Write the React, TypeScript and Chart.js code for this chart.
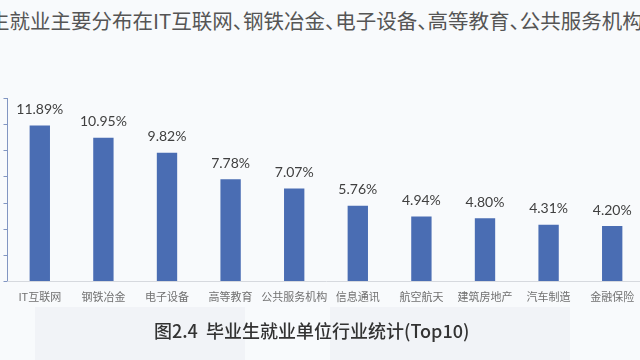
import React, { useEffect, useRef } from "react";
import { Chart, registerables } from "chart.js";

Chart.register(...registerables);

const categories = ["IT互联网", "钢铁冶金", "电子设备", "高等教育", "公共服务机构", "信息通讯", "航空航天", "建筑房地产", "汽车制造", "金融保险"];
const shares = [11.89, 10.95, 9.82, 7.78, 7.07, 5.76, 4.94, 4.80, 4.31, 4.20];
const yTicks = [0, 2, 4, 6, 8, 10, 12, 14];
const headline = "毕业生就业主要分布在IT互联网、钢铁冶金、电子设备、高等教育、公共服务机构等行业";
const caption = "图2.4  毕业生就业单位行业统计(Top10)";

const cjk = '"Noto Sans CJK SC", "Noto Sans", sans-serif';

const overlay = {
  id: "overlay",
  afterDatasetsDraw(chart: any) {
    const { ctx, chartArea } = chart;
    const y = chart.scales.y;
    ctx.save();
    ctx.strokeStyle = "#8296c2";
    ctx.lineWidth = 1;
    const ax = Math.round(chartArea.left) - 0.5;
    ctx.beginPath();
    ctx.moveTo(ax, y.getPixelForValue(yTicks[yTicks.length - 1]));
    ctx.lineTo(ax, y.getPixelForValue(0));
    ctx.stroke();
    yTicks.forEach((t) => {
      const py = Math.round(y.getPixelForValue(t)) + 0.5;
      ctx.beginPath();
      ctx.moveTo(ax - 4, py);
      ctx.lineTo(ax, py);
      ctx.stroke();
    });
    const meta = chart.getDatasetMeta(0);
    ctx.fillStyle = "#404040";
    ctx.font = '14px Lato, "Noto Sans", sans-serif';
    ctx.textAlign = "center";
    ctx.textBaseline = "bottom";
    meta.data.forEach((bar: any, i: number) => {
      ctx.fillText(shares[i].toFixed(2) + "%", bar.x, bar.y - 9);
    });
    ctx.restore();
  },
};

export default function App() {
  const ref = useRef<HTMLCanvasElement>(null);
  useEffect(() => {
    const chart = new Chart(ref.current!, {
      type: "bar",
      data: {
        labels: categories,
        datasets: [
          {
            data: shares,
            backgroundColor: "#4a6db3",
            barPercentage: 0.32,
            categoryPercentage: 1,
          },
        ],
      },
      options: {
        animation: false,
        responsive: false,
        maintainAspectRatio: false,
        layout: { padding: { left: 8, top: 98, right: 16, bottom: 0 } },
        plugins: { legend: { display: false }, tooltip: { enabled: false }, title: { display: false } },
        scales: {
          y: { display: false, min: 0, max: 14 },
          x: {
            grid: { display: false, drawTicks: false },
            border: { display: true, color: "#d6d9de" },
            ticks: {
              color: "#707070",
              font: { family: cjk, size: 11 },
              padding: 9,
              maxRotation: 0,
              autoSkip: false,
            },
            afterFit(scale: any) {
              scale.height = 79;
            },
          },
        },
      },
      plugins: [overlay],
    });
    return () => chart.destroy();
  }, []);

  return (
    <div
      style={{
        position: "fixed",
        left: 0,
        top: 0,
        width: 640,
        height: 360,
        overflow: "hidden",
        background: "#f8fafc",
      }}
    >
      <div style={{ position: "absolute", left: 35, top: 307, width: 210, height: 53, background: "#f1f3f7" }} />
      <div style={{ position: "absolute", left: 330, top: 307, width: 240, height: 53, background: "#f1f3f7" }} />
      <div
        style={{
          position: "absolute",
          left: -52,
          top: 10,
          whiteSpace: "nowrap",
          fontFamily: cjk,
          fontSize: 20.5,
          lineHeight: "20px",
          color: "#555",
          fontFeatureSettings: '"halt"',
        }}
      >
        {headline}
      </div>
      <canvas ref={ref} width={660} height={360} style={{ position: "absolute", left: 0, top: 0, width: 660, height: 360 }} />
      <div
        style={{
          position: "absolute",
          left: 154,
          top: 320,
          whiteSpace: "pre",
          fontFamily: cjk,
          fontSize: 18,
          fontWeight: 500,
          lineHeight: "20px",
          color: "#333",
        }}
      >
        {caption}
      </div>
    </div>
  );
}
